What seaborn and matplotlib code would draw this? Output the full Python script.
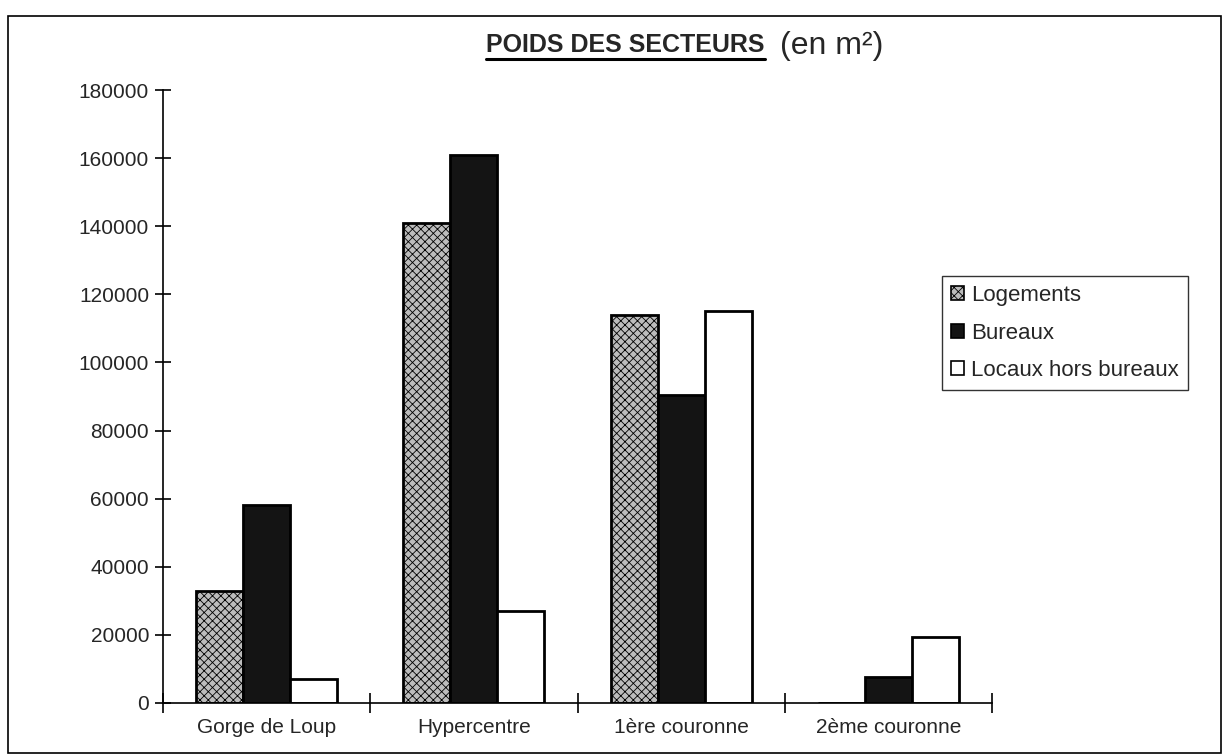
import numpy as np
import pandas as pd
import matplotlib.pyplot as plt
import seaborn as sns
from matplotlib.patches import Patch, Rectangle

# Data
secteurs = ['Gorge de Loup', 'Hypercentre', '1ère couronne', '2ème couronne']
logements = [33000, 141000, 114000, 0]
bureaux = [58000, 161000, 90500, 7500]
locaux = [7000, 27000, 115000, 19500]
series = ['Logements', 'Bureaux', 'Locaux hors bureaux']

df = pd.DataFrame({'secteur': secteurs, 'Logements': logements,
                   'Bureaux': bureaux, 'Locaux hors bureaux': locaux})
df = df.melt(id_vars='secteur', var_name='type', value_name='surface')

sns.set_theme(style='white')
plt.rcParams['font.family'] = ['Liberation Sans', 'DejaVu Sans']
plt.rcParams['hatch.linewidth'] = 0.6

colors = {'Logements': '#bcbcbc', 'Bureaux': '#141414', 'Locaux hors bureaux': '#ffffff'}
hatches = {'Logements': 'xxxx', 'Bureaux': '', 'Locaux hors bureaux': ''}

fig = plt.figure(figsize=(12.29, 7.55), dpi=100)
ax = fig.add_axes([163 / 1229, 1 - 703 / 755, (992 - 163) / 1229, (703 - 90) / 755])

sns.barplot(data=df, x='secteur', y='surface', hue='type', hue_order=series,
            palette=colors, width=0.68, ax=ax, legend=False, saturation=1)

# style each bar according to its series
for cont, name in zip(ax.containers, series):
    for bar in cont:
        bar.set_edgecolor('black')
        bar.set_linewidth(2)
        bar.set_hatch(hatches[name])

ax.set_xlim(-0.5, 3.5)
ax.set_ylim(0, 180000)
ax.set_yticks(np.arange(0, 180001, 20000))
ax.set_yticklabels([str(v) for v in range(0, 180001, 20000)], fontsize=15)
ax.set_xticks([-0.5, 0.5, 1.5, 2.5, 3.5])
ax.set_xticklabels([])
ax.set_xticks(range(4), minor=True)
ax.set_xticklabels(secteurs, minor=True, fontsize=15)
ax.tick_params(axis='x', which='major', bottom=True, direction='inout', length=14,
               width=1.2, color='black')
ax.tick_params(axis='x', which='minor', bottom=True, length=0, pad=11)
ax.tick_params(axis='y', left=True, direction='inout', length=12, width=1.2,
               color='black', pad=4)
ax.set_xlabel('')
ax.set_ylabel('')
for s in ['top', 'right']:
    ax.spines[s].set_visible(False)
for s in ['left', 'bottom']:
    ax.spines[s].set_color('black')
    ax.spines[s].set_linewidth(1.2)

# title: bold underlined part + regular part
t1 = fig.text(765 / 1229, 1 - 45 / 755, 'POIDS DES SECTEURS', fontsize=18, fontweight='bold',
              ha='right', va='center')
fig.text(780 / 1229, 1 - 46 / 755, '(en m²)', fontsize=23, ha='left', va='center')
fig.canvas.draw()
bb = t1.get_window_extent().transformed(fig.transFigure.inverted())
fig.add_artist(plt.Line2D([bb.x0, bb.x1], [bb.y0 - 0.003, bb.y0 - 0.003],
                          color='black', linewidth=2.2, transform=fig.transFigure))

handles = [Patch(facecolor=colors[n], edgecolor='black', hatch=hatches[n], linewidth=1.2)
           for n in series]
leg = fig.legend(handles, series, loc='upper left', bbox_to_anchor=(942 / 1229, 1 - 276 / 755),
                 fontsize=16, frameon=True, fancybox=False, handlelength=0.6, handleheight=0.6,
                 handletextpad=0.3, labelspacing=0.75, borderpad=0.4, borderaxespad=0)
leg.get_frame().set_edgecolor('black')
leg.get_frame().set_linewidth(1)

# outer chart frame
fig.add_artist(Rectangle((8 / 1229, 0.002), 1 - 16 / 1229, 1 - 16 / 755 - 0.002,
                         transform=fig.transFigure, fill=False, edgecolor='black',
                         linewidth=1.2))

fig.savefig('out.png', dpi=100)
